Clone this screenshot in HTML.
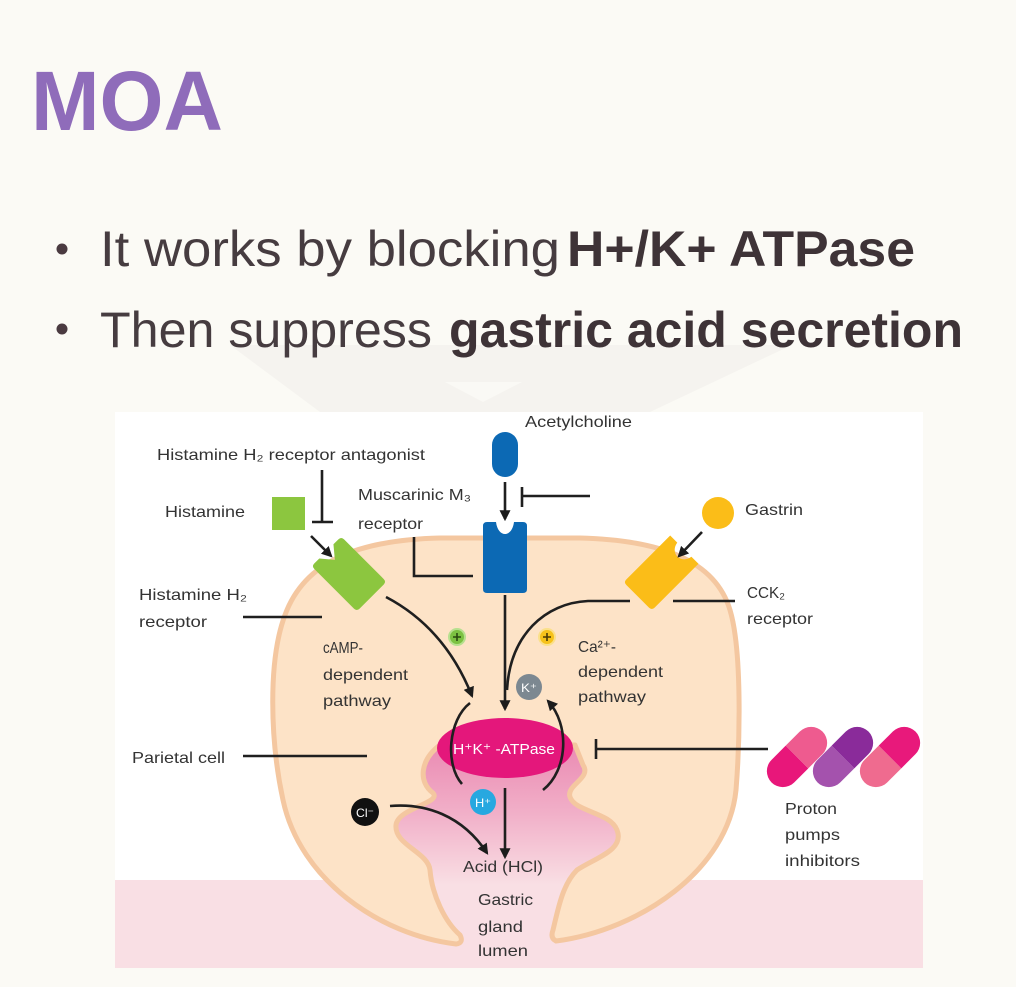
<!DOCTYPE html>
<html>
<head>
<meta charset="utf-8">
<style>
html,body{margin:0;padding:0;background:#fbfaf5;}
svg{display:block;}
text{font-family:"Liberation Sans",sans-serif;}
</style>
</head>
<body>
<svg width="1016" height="987" viewBox="0 0 1016 987" xmlns="http://www.w3.org/2000/svg">
<defs>
<marker id="ah" viewBox="0 0 10 10" refX="8" refY="5" markerWidth="11" markerHeight="11" markerUnits="userSpaceOnUse" orient="auto">
<path d="M0,0 L10,5 L0,10 z" fill="#1c1c1c"/>
</marker>
<linearGradient id="lum" gradientUnits="userSpaceOnUse" x1="0" y1="740" x2="0" y2="885">
<stop offset="0" stop-color="#ea88b1"/>
<stop offset="0.5" stop-color="#f1afc8"/>
<stop offset="1" stop-color="#f9dfe4"/>
</linearGradient>
</defs>

<!-- background -->
<rect x="0" y="0" width="1016" height="987" fill="#fbfaf5"/>
<!-- faint watermark -->
<polygon points="230,345 792,345 650,412 320,412" fill="#f5f3ef"/>
<polygon points="445,382 522,382 483,402" fill="#faf9f5"/>

<!-- title -->
<text x="31" y="130" font-size="84" font-weight="bold" fill="#8f6cba" textLength="192" lengthAdjust="spacingAndGlyphs">MOA</text>

<!-- bullets -->
<circle cx="62" cy="249" r="5.5" fill="#4a3a40"/>
<circle cx="62" cy="329" r="5.5" fill="#4a3a40"/>
<text x="100" y="266" font-size="50" fill="#463c40" textLength="460" lengthAdjust="spacingAndGlyphs">It works by blocking</text>
<text x="567" y="266" font-size="50" font-weight="bold" fill="#3e3337" textLength="348" lengthAdjust="spacingAndGlyphs">H+/K+ ATPase</text>
<text x="100" y="347" font-size="50" fill="#463c40" textLength="332" lengthAdjust="spacingAndGlyphs">Then suppress</text>
<text x="449" y="347" font-size="50" font-weight="bold" fill="#3e3337" textLength="514" lengthAdjust="spacingAndGlyphs">gastric acid secretion</text>

<!-- diagram frame -->
<rect x="115" y="412" width="808" height="556" fill="#ffffff"/>
<rect x="115" y="880" width="808" height="88" fill="#f9dfe4"/>
<rect x="392" y="735" width="240" height="150" fill="url(#lum)"/>

<!-- cell -->
<path d="M 456,944
C 380,935 300,880 283,800
C 270,740 268,660 285,615
C 305,560 360,540 440,538
L 580,538
C 660,540 715,560 730,610
C 742,650 740,740 736,790
C 728,870 640,930 556,941
Q 550,938 553,930
C 558,910 562,885 577,870
C 595,858 625,850 617,830
C 610,812 575,812 570,797
C 566,785 592,778 583,765
L 575,745 L 440,745
C 420,760 418,782 433,793
C 442,803 398,808 396,825
C 394,845 428,852 430,870
C 432,895 445,922 460,935
Q 464,943 456,944 Z" fill="#fde3c7" stroke="#f4c7a0" stroke-width="5" stroke-linejoin="round"/>

<!-- ATPase -->
<ellipse cx="505" cy="748" rx="68" ry="30" fill="#e4177b"/>
<text x="453" y="754" font-size="15" fill="#ffffff" textLength="102" lengthAdjust="spacingAndGlyphs">H⁺K⁺ -ATPase</text>

<!-- acetylcholine -->
<rect x="492" y="432" width="26" height="45" rx="13" fill="#0c69b4"/>
<path d="M 487,522 L 496,522 C 498,538 512,538 514,522 L 523,522 Q 527,522 527,526 L 527,589 Q 527,593 523,593 L 487,593 Q 483,593 483,589 L 483,526 Q 483,522 487,522 Z" fill="#0c69b4"/>

<!-- histamine -->
<rect x="272" y="497" width="33" height="33" fill="#8cc63f"/>
<g transform="translate(349,574) rotate(45)">
<path d="M -32,-17 Q -32,-21 -28,-21 L 28,-21 Q 32,-21 32,-17 L 32,17 Q 32,21 28,21 L -28,21 Q -32,21 -32,17 L -32,10 L -20,0 L -32,-10 Z" fill="#8cc63f"/>
</g>

<!-- gastrin -->
<circle cx="718" cy="513" r="16" fill="#fbbd18"/>
<g transform="translate(661,573) rotate(-45)">
<path d="M -33,-16 Q -33,-20 -29,-20 L 33,-20 L 33,-10 C 20,-8 20,8 33,10 L 33,20 L -29,20 Q -33,20 -33,16 Z" fill="#fbbd18"/>
</g>

<!-- connectors / inhibitors -->
<g stroke="#1f1f1f" stroke-width="2.6" fill="none">
<line x1="322" y1="470" x2="322" y2="522"/>
<line x1="312" y1="522" x2="333" y2="522"/>
<line x1="522" y1="487" x2="522" y2="507"/>
<line x1="522" y1="496" x2="590" y2="496"/>
<polyline points="414,537 414,576 473,576"/>
<line x1="243" y1="617" x2="322" y2="617"/>
<line x1="673" y1="601" x2="735" y2="601"/>
<line x1="243" y1="756" x2="367" y2="756"/>
<line x1="596" y1="739" x2="596" y2="759"/>
<line x1="596" y1="749" x2="768" y2="749"/>
<!-- arrows -->
<line x1="311" y1="536" x2="331" y2="556" marker-end="url(#ah)"/>
<line x1="505" y1="482" x2="505" y2="519" marker-end="url(#ah)"/>
<line x1="702" y1="532" x2="679" y2="556" marker-end="url(#ah)"/>
<path d="M 386,597 Q 445,628 472,696" marker-end="url(#ah)"/>
<line x1="505" y1="595" x2="505" y2="709" marker-end="url(#ah)"/>
<path d="M 630,601 L 588,601 C 545,603 510,635 507,690"/>
<path d="M 543,790 C 568,770 570,725 548,701" marker-end="url(#ah)"/>
<path d="M 470,703 C 448,720 445,765 462,784"/>
<line x1="505" y1="788" x2="505" y2="857" marker-end="url(#ah)"/>
<path d="M 390,806 C 425,803 462,815 487,853" marker-end="url(#ah)"/>
</g>

<!-- plus markers -->
<circle cx="457" cy="637" r="8" fill="#7cc242" stroke="#b7e08f" stroke-width="2"/>
<path d="M 453,637 L 461,637 M 457,633 L 457,641" stroke="#2a4a10" stroke-width="1.6"/>
<circle cx="547" cy="637" r="8" fill="#f6c21b" stroke="#fbe08a" stroke-width="2"/>
<path d="M 543,637 L 551,637 M 547,633 L 547,641" stroke="#4a3a05" stroke-width="1.6"/>

<!-- ions -->
<circle cx="529" cy="687" r="13" fill="#7c8891"/>
<text x="521" y="692" font-size="12" fill="#ffffff" textLength="16" lengthAdjust="spacingAndGlyphs">K⁺</text>
<circle cx="483" cy="802" r="13" fill="#27a8e0"/>
<text x="475" y="807" font-size="12" fill="#ffffff" textLength="16" lengthAdjust="spacingAndGlyphs">H⁺</text>
<circle cx="365" cy="812" r="14" fill="#111111"/>
<text x="356" y="817" font-size="12" fill="#ffffff" textLength="18" lengthAdjust="spacingAndGlyphs">Cl⁻</text>

<!-- pills -->
<g transform="translate(797,757) rotate(-45)">
<path d="M 0,-16 L -20,-16 A 16 16 0 0 0 -20,16 L 0,16 Z" fill="#e8177a"/>
<path d="M 0,-16 L 20,-16 A 16 16 0 0 1 20,16 L 0,16 Z" fill="#ee5b8f"/>
</g>
<g transform="translate(843,757) rotate(-45)">
<path d="M 0,-16 L -20,-16 A 16 16 0 0 0 -20,16 L 0,16 Z" fill="#a452ad"/>
<path d="M 0,-16 L 20,-16 A 16 16 0 0 1 20,16 L 0,16 Z" fill="#8a2b9a"/>
</g>
<g transform="translate(890,757) rotate(-45)">
<path d="M 0,-16 L -20,-16 A 16 16 0 0 0 -20,16 L 0,16 Z" fill="#ef6b8f"/>
<path d="M 0,-16 L 20,-16 A 16 16 0 0 1 20,16 L 0,16 Z" fill="#e8197b"/>
</g>

<!-- labels -->
<g font-size="16" fill="#333333">
<text x="525" y="427" textLength="107" lengthAdjust="spacingAndGlyphs">Acetylcholine</text>
<text x="157" y="460" textLength="268" lengthAdjust="spacingAndGlyphs">Histamine H₂ receptor antagonist</text>
<text x="165" y="517" textLength="80" lengthAdjust="spacingAndGlyphs">Histamine</text>
<text x="358" y="500" textLength="113" lengthAdjust="spacingAndGlyphs">Muscarinic M₃</text>
<text x="358" y="529" textLength="65" lengthAdjust="spacingAndGlyphs">receptor</text>
<text x="745" y="515" textLength="58" lengthAdjust="spacingAndGlyphs">Gastrin</text>
<text x="139" y="600" textLength="108" lengthAdjust="spacingAndGlyphs">Histamine H₂</text>
<text x="139" y="627" textLength="68" lengthAdjust="spacingAndGlyphs">receptor</text>
<text x="747" y="598" textLength="38" lengthAdjust="spacingAndGlyphs">CCK₂</text>
<text x="747" y="624" textLength="66" lengthAdjust="spacingAndGlyphs">receptor</text>
<text x="323" y="653" textLength="40" lengthAdjust="spacingAndGlyphs">cAMP-</text>
<text x="323" y="680" textLength="85" lengthAdjust="spacingAndGlyphs">dependent</text>
<text x="323" y="706" textLength="68" lengthAdjust="spacingAndGlyphs">pathway</text>
<text x="578" y="652" textLength="38" lengthAdjust="spacingAndGlyphs">Ca²⁺-</text>
<text x="578" y="677" textLength="85" lengthAdjust="spacingAndGlyphs">dependent</text>
<text x="578" y="702" textLength="68" lengthAdjust="spacingAndGlyphs">pathway</text>
<text x="132" y="763" textLength="93" lengthAdjust="spacingAndGlyphs">Parietal cell</text>
<text x="785" y="814" textLength="52" lengthAdjust="spacingAndGlyphs">Proton</text>
<text x="785" y="840" textLength="55" lengthAdjust="spacingAndGlyphs">pumps</text>
<text x="785" y="866" textLength="75" lengthAdjust="spacingAndGlyphs">inhibitors</text>
<text x="463" y="872" textLength="80" lengthAdjust="spacingAndGlyphs">Acid (HCl)</text>
<text x="478" y="905" textLength="55" lengthAdjust="spacingAndGlyphs">Gastric</text>
<text x="478" y="932" textLength="45" lengthAdjust="spacingAndGlyphs">gland</text>
<text x="478" y="956" textLength="50" lengthAdjust="spacingAndGlyphs">lumen</text>
</g>
</svg>
</body>
</html>
